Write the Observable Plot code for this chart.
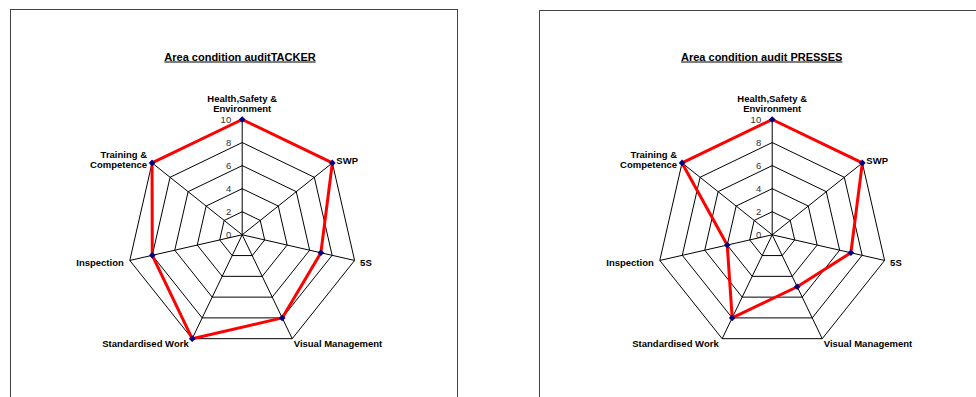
<!DOCTYPE html>
<html>
<head>
<meta charset="utf-8">
<script src="https://cdn.jsdelivr.net/npm/d3@7"></script>
<script src="https://cdn.jsdelivr.net/npm/@observablehq/plot@0.6"></script>
<style>
  html, body { margin: 0; padding: 0; background: #fff; }
  body { width: 976px; height: 397px; overflow: hidden; position: relative;
         font-family: "Liberation Sans", Arial, sans-serif; }
  .panel { position: absolute; box-sizing: border-box; width: 448px; height: 430px;
           border: 1px solid #444; background: #fff; }
  .panel svg { position: absolute; left: 0; top: 0; overflow: visible; }
  .title { position: absolute; font-weight: bold; font-size: 11px; line-height: 13px;
           text-decoration: underline; white-space: nowrap; color: #000;
           transform: translate(-50%, -50%); }
</style>
</head>
<body>
<script>
// Audit areas (spokes, clockwise from the top)
const categories = [
  "Health,Safety &\nEnvironment",
  "SWP",
  "5S",
  "Visual Management",
  "Standardised Work",
  "Inspection",
  "Training &\nCompetence"
];

// Scores per area, 0–10
const tackerScores  = [10, 10, 7, 8, 10, 8, 10];
const pressesScores = [10, 10, 7, 5, 8, 4, 10];

// Chart titles
const tackerTitle  = "Area condition auditTACKER";
const pressesTitle = "Area condition audit PRESSES";

// Radial axis
const ringLevels = [2, 4, 6, 8, 10];
const tickLabels = [0, 2, 4, 6, 8, 10];
const maxScore = 10;

// ---- layout ----
const W = 446, H = 420;          // drawing area inside each framed panel
const radiusPx = 115.3;          // pixel length of the 10-point spoke
const k = radiusPx / maxScore;   // pixels per score unit

const n = categories.length;
const angle = i => (i % n) * 2 * Math.PI / n;
const px = (v, i) => v * Math.sin(angle(i));
const py = (v, i) => v * Math.cos(angle(i));

// where each spoke label sits relative to the outer vertex
const labelPlacement = [
  {anchor: "middle", dx: 0,    dy: -16},
  {anchor: "start",  dx: 4,    dy: -2.5},
  {anchor: "start",  dx: 5.5,  dy: 2.4},
  {anchor: "start",  dx: 1.5,  dy: 4.6},
  {anchor: "end",    dx: -3.5, dy: 4.6},
  {anchor: "end",    dx: -6,   dy: 1.8},
  {anchor: "end",    dx: -5,   dy: -3.2}
];

function radar(scores, cx, cy) {
  const rings = ringLevels.flatMap(level =>
    d3.range(n + 1).map(j => ({level, x: px(level, j), y: py(level, j)})));
  const outline = d3.range(n + 1).map(j => ({x: px(scores[j % n], j), y: py(scores[j % n], j)}));
  const points = scores.map((v, i) => ({x: px(v, i), y: py(v, i)}));

  const labelMarks = categories.map((label, i) => {
    const p = labelPlacement[i];
    return Plot.text([label], {
      x: () => px(maxScore, i),
      y: () => py(maxScore, i),
      text: d => d,
      textAnchor: p.anchor,
      dx: p.dx,
      dy: p.dy,
      lineAnchor: "middle",
      lineHeight: 1.12,
      fontWeight: "bold",
      fontSize: 9.5,
      fill: "#000"
    });
  });

  return Plot.plot({
    width: W,
    height: H,
    margin: 0,
    x: {type: "linear", domain: [-cx / k, (W - cx) / k], range: [0, W], axis: null},
    y: {type: "linear", domain: [-(H - cy) / k, cy / k], range: [H, 0], axis: null},
    style: {fontFamily: '"Liberation Sans", Arial, sans-serif', background: "transparent"},
    marks: [
      Plot.text(tickLabels, {
        x: () => 0, y: d => d, text: d => String(d),
        textAnchor: "end", dx: -11, fontSize: 9.5, fill: "#333"
      }),
      Plot.line(rings, {x: "x", y: "y", z: "level", stroke: "#000", strokeWidth: 1}),
      Plot.link(categories, {
        x1: () => 0, y1: () => 0,
        x2: (d, i) => px(maxScore, i), y2: (d, i) => py(maxScore, i),
        stroke: "#000", strokeWidth: 1
      }),
      Plot.line(outline, {x: "x", y: "y", stroke: "#ff0000", strokeWidth: 3,
                          strokeLinejoin: "round", strokeLinecap: "round"}),
      Plot.dot(points, {x: "x", y: "y", symbol: "diamond2", r: 3, fill: "#000080", stroke: "none"}),
      ...labelMarks
    ]
  });
}

function panel(scores, title, left, top, centerX, centerY, titleX, titleY) {
  const div = document.createElement("div");
  div.className = "panel";
  div.style.left = left + "px";
  div.style.top = top + "px";
  // chart centre given in page coordinates; the svg sits inside the 1px border
  div.appendChild(radar(scores, centerX - left - 1, centerY - top - 1));
  document.body.appendChild(div);

  const t = document.createElement("div");
  t.className = "title";
  t.textContent = title;
  t.style.left = titleX + "px";
  t.style.top = titleY + "px";
  document.body.appendChild(t);
}

panel(tackerScores, tackerTitle, 10, 9, 241.7, 234.3, 240, 56.7);
panel(pressesScores, pressesTitle, 539, 10, 771.7, 234.3, 761.7, 56.7);
</script>
</body>
</html>
